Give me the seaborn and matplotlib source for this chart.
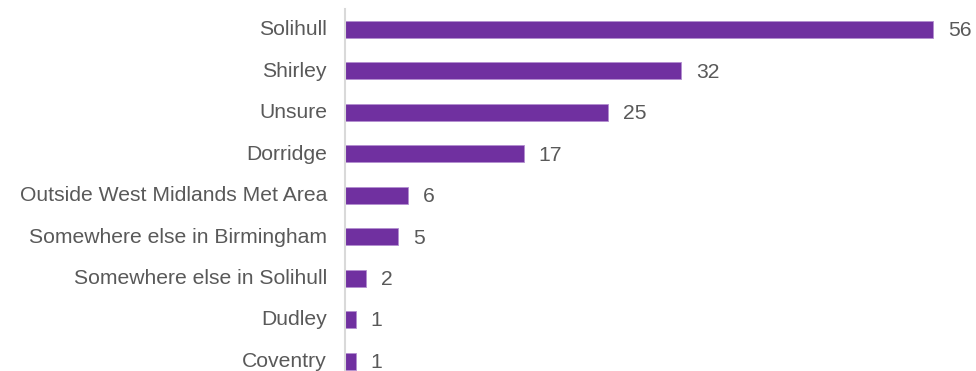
import matplotlib
matplotlib.use("Agg")
import matplotlib.pyplot as plt
import matplotlib.transforms as mtransforms
import seaborn as sns
import pandas as pd

locations = [
    "Solihull",
    "Shirley",
    "Unsure",
    "Dorridge",
    "Outside West Midlands Met Area",
    "Somewhere else in Birmingham",
    "Somewhere else in Solihull",
    "Dudley",
    "Coventry",
]
counts = [56, 32, 25, 17, 6, 5, 2, 1, 1]

bar_color = "#7030A0"
text_color = "#595959"

sns.set_theme(style="white")
plt.rcParams["font.family"] = ["Liberation Sans", "DejaVu Sans"]

df = pd.DataFrame({"location": locations, "count": counts})

fig = plt.figure(figsize=(9.76, 3.71), dpi=100)
# axes deliberately extends below the figure so the last row is clipped
ax = fig.add_axes([345 / 976, 1 - 381.75 / 371, 1 - 345 / 976, (381.75 - 8.75) / 371])

sns.barplot(data=df, x="count", y="location", order=locations,
            color=bar_color, saturation=1, width=0.41, ax=ax,
            edgecolor="#B38ED0", linewidth=0.6)

ax.set_xlim(0, (976 - 345) / 10.5)
ax.set_xlabel("")
ax.set_ylabel("")
ax.set_xticks([])
ax.tick_params(axis="y", length=0, pad=13, labelsize=15.2, labelcolor=text_color)

# nudge category labels up a little
shift = mtransforms.ScaledTranslation(0, 1.2 / 72, fig.dpi_scale_trans)
for lbl in ax.get_yticklabels():
    lbl.set_transform(lbl.get_transform() + shift)

for s in ["top", "right", "bottom"]:
    ax.spines[s].set_visible(False)
ax.spines["left"].set_color("#D9D9D9")
ax.spines["left"].set_linewidth(1.5)

for i, v in enumerate(counts):
    ax.annotate(str(v), xy=(v, i), xytext=(11, -1), textcoords="offset points",
                va="center", ha="left", fontsize=15.2, color=text_color,
                annotation_clip=False)

fig.savefig("out.png", dpi=100)
